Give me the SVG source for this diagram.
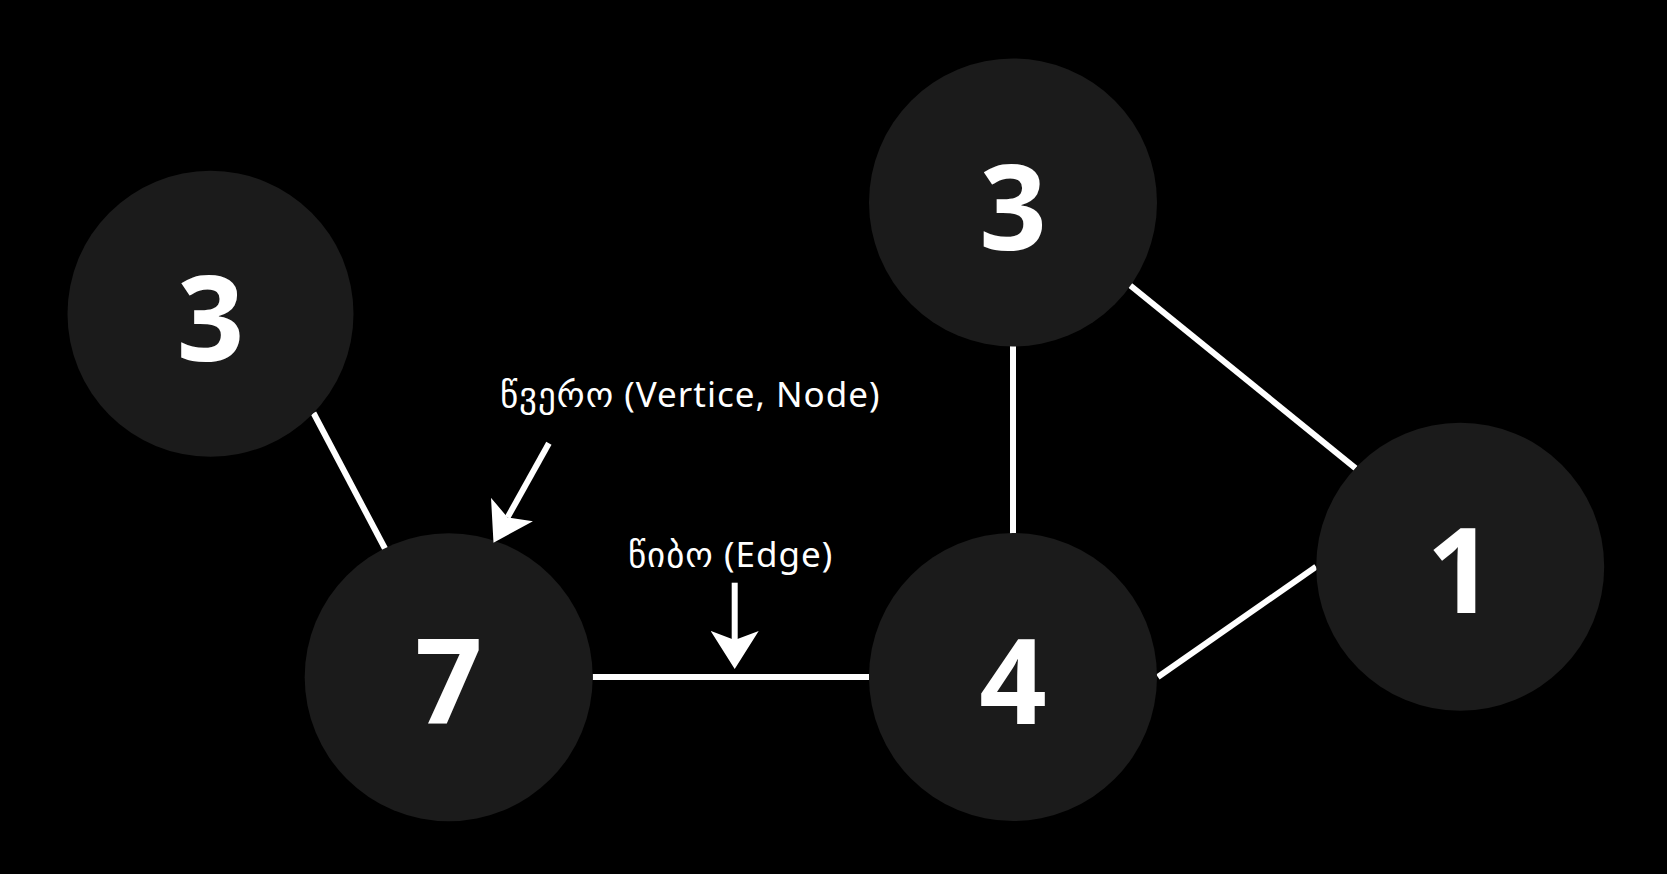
<svg xmlns="http://www.w3.org/2000/svg" width="1667" height="874" viewBox="0 0 1667 874">
<style>
.node{fill:#1b1b1b}
.num{font-family:"Open Sans","Noto Sans",sans-serif;font-weight:700;font-size:118px;fill:#fff;text-anchor:middle}
.edge{stroke:#fff;stroke-width:6;fill:none}
.lbl{font-family:"Noto Sans","Open Sans","DejaVu Sans",sans-serif;font-size:35px;letter-spacing:1px;fill:#fff}
</style>
<defs>
<marker id="ah" markerUnits="userSpaceOnUse" viewBox="0 0 38 48" markerWidth="38" markerHeight="48" refX="9" refY="24" orient="auto">
<path d="M0,0 L38,24 L0,48 L9,24 Z" fill="#fff"/>
</marker>
</defs>
<rect width="1667" height="874" fill="#000"/>
<g id="connectors">
<line class="edge" x1="313.5" y1="413" x2="386" y2="550.5"/>
<line class="edge" x1="592.7" y1="677" x2="869" y2="677"/>
<line class="edge" x1="1013" y1="343.5" x2="1013" y2="536"/>
<line class="edge" x1="1129.7" y1="285" x2="1355.7" y2="468.3"/>
<line class="edge" x1="1157.9" y1="677" x2="1316" y2="566.7"/>
</g>
<g id="node-a"><circle class="node" cx="210.5" cy="313.8" r="143"/><text class="num" x="210.5" y="361">3</text></g>
<g id="node-b"><circle class="node" cx="1013" cy="202.5" r="144"/><text class="num" x="1013" y="250">3</text></g>
<g id="node-c"><circle class="node" cx="448.7" cy="677.2" r="144"/><text class="num" x="448.7" y="724">7</text></g>
<g id="node-d"><circle class="node" cx="1013" cy="677" r="144"/><text class="num" x="1013" y="724">4</text></g>
<g id="node-e"><circle class="node" cx="1460.2" cy="566.7" r="144"/><text class="num" x="1460.2" y="612.5">1</text></g>
<g id="annotations">
<text class="lbl" x="500" y="407">წვერო (Vertice, Node)</text>
<line class="edge" x1="548.9" y1="443.3" x2="507.6" y2="517.4" marker-end="url(#ah)"/>
<text class="lbl" x="628" y="567">წიბო (Edge)</text>
<line class="edge" x1="734.7" y1="582.7" x2="734.7" y2="640" marker-end="url(#ah)"/>
</g>
</svg>
